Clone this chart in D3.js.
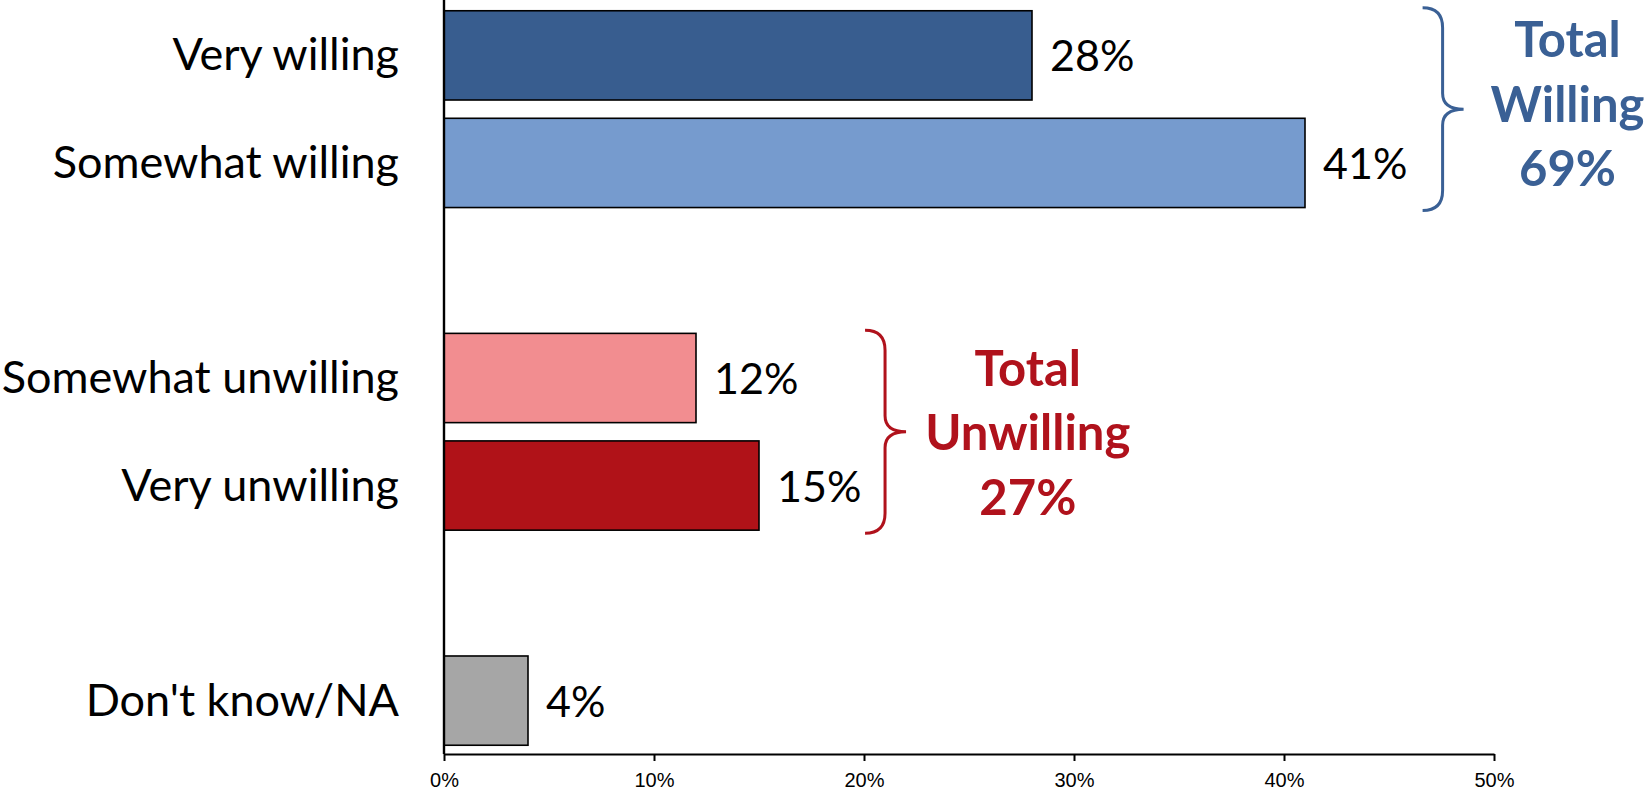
<!DOCTYPE html>
<html>
<head>
<meta charset="utf-8">
<script src="https://cdn.jsdelivr.net/npm/d3@7"></script>
<style>
  html, body { margin: 0; padding: 0; background: #fff; }
  svg { display: block; }
  .cat { font-family: Lato, "Open Sans", sans-serif; font-size: 45px; fill: #000; }
  .val { font-family: Lato, "Open Sans", sans-serif; font-size: 43px; fill: #000; }
  .tick text { font-family: "Liberation Sans", Arial, sans-serif; font-size: 20px; fill: #000; }
  .total { font-family: Lato, "Open Sans", sans-serif; font-weight: 700; font-size: 49px; }
</style>
</head>
<body>
<svg id="chart" width="1646" height="791"></svg>
<script>
// Survey responses: willingness, in percent of respondents
const categories = ["Very willing", "Somewhat willing", "", "Somewhat unwilling", "Very unwilling", " ", "Don't know/NA"];
const values     = [28, 41, null, 12, 15, null, 4];
const colors     = ["#385D8F", "#769BCE", null, "#F28D90", "#B01218", null, "#A6A6A6"];
const tickValues = [0, 10, 20, 30, 40, 50];
const tickLabels = ["0%", "10%", "20%", "30%", "40%", "50%"];

// Bracketed group totals
const groupNames   = ["Total Willing", "Total Unwilling"];
const groupMembers = [["Very willing", "Somewhat willing"], ["Somewhat unwilling", "Very unwilling"]];
const groupColors  = ["#3A6095", "#B0121C"];

const svg = d3.select("#chart");
const W = 1646, H = 791;
const margin = { left: 444, right: 152, top: 0, bottom: 37 };

const x = d3.scaleLinear().domain([0, 50]).range([margin.left, W - margin.right]);
const y = d3.scaleBand().domain(categories).range([0, H - margin.bottom + 2])
  .paddingInner(0.17).paddingOuter(0.1);

const rows = categories.map((c, i) => ({ cat: c, value: values[i], color: colors[i] }))
  .filter(d => d.value !== null);

// Bars
svg.append("g").selectAll("rect").data(rows).join("rect")
  .attr("x", x(0))
  .attr("y", d => y(d.cat))
  .attr("width", d => x(d.value) - x(0))
  .attr("height", y.bandwidth())
  .attr("fill", d => d.color)
  .attr("stroke", "#000")
  .attr("stroke-width", 1.6);

// Category labels
svg.append("g").selectAll("text").data(rows).join("text")
  .attr("class", "cat")
  .attr("x", 399)
  .attr("y", d => y(d.cat) + y.bandwidth() / 2 + 15)
  .attr("text-anchor", "end")
  .text(d => d.cat);

// Value labels
svg.append("g").selectAll("text").data(rows).join("text")
  .attr("class", "val")
  .attr("x", d => x(d.value) + 18)
  .attr("y", d => y(d.cat) + y.bandwidth() / 2 + 16)
  .text(d => d.value + "%");

// X axis
const axisY = H - margin.bottom;
const xAxis = d3.axisBottom(x).tickValues(tickValues)
  .tickFormat((d, i) => tickLabels[i]).tickSize(7).tickSizeOuter(0);
const gx = svg.append("g").attr("transform", `translate(0,${axisY})`).call(xAxis);
gx.select(".domain").attr("stroke", "#000").attr("stroke-width", 2.2);
gx.selectAll(".tick line").attr("stroke", "#000").attr("stroke-width", 2);
gx.selectAll(".tick text").attr("y", 0).attr("dy", null).attr("transform", "translate(0,33)");

// Vertical axis line
svg.append("line")
  .attr("x1", x(0)).attr("x2", x(0))
  .attr("y1", 0).attr("y2", axisY)
  .attr("stroke", "#000").attr("stroke-width", 2.4);

// Curly brace between y0 and y1, tip at xTip, opening to the left
function bracePath(xTip, y0, y1) {
  const spine = xTip + 20, nose = xTip + 41, mid = (y0 + y1) / 2, r = 20, rn = 16;
  return `M${xTip},${y0} Q${spine},${y0} ${spine},${y0 + r}` +
         ` L${spine},${mid - rn} Q${spine},${mid} ${nose},${mid}` +
         ` Q${spine},${mid} ${spine},${mid + rn}` +
         ` L${spine},${y1 - r} Q${spine},${y1} ${xTip},${y1}`;
}

// Brace placement along the value axis and label centre
const braceAt  = [46.6, 20.05];
const labelAt  = [53.5, 27.8];
const labelDy  = [-52, -46];

groupNames.forEach((name, gi) => {
  const members = groupMembers[gi];
  const total = members.reduce((s, c) => s + values[categories.indexOf(c)], 0);
  const top = y(members[0]) - 3;
  const bottom = y(members[members.length - 1]) + y.bandwidth() + 3;
  svg.append("path")
    .attr("d", bracePath(x(braceAt[gi]), top, bottom))
    .attr("fill", "none")
    .attr("stroke", groupColors[gi])
    .attr("stroke-width", 3);
  const mid = (top + bottom) / 2;
  const lines = name.split(" ").concat([total + "%"]);
  const t = svg.append("text")
    .attr("class", "total")
    .attr("fill", groupColors[gi])
    .attr("text-anchor", "middle");
  lines.forEach((ln, li) => {
    t.append("tspan")
      .attr("x", x(labelAt[gi]))
      .attr("y", mid + labelDy[gi] + li * 64.5)
      .text(ln);
  });
});
</script>
</body>
</html>
